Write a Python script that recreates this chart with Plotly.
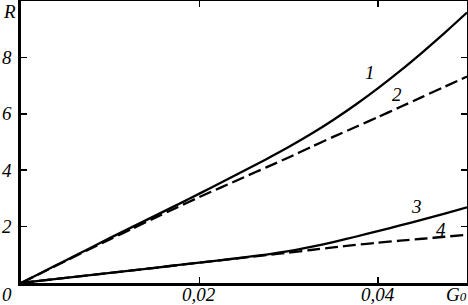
import plotly.graph_objects as go

# Data
G0 = [0.0, 0.0025, 0.005, 0.0075, 0.010, 0.0125, 0.015, 0.0175, 0.020, 0.0225, 0.025,
      0.0275, 0.030, 0.0325, 0.035, 0.0375, 0.040, 0.0425, 0.045, 0.0475, 0.050]
R1 = [0, 0.40, 0.80, 1.20, 1.60, 1.99, 2.38, 2.77, 3.17, 3.57, 3.98,
      4.39, 4.82, 5.28, 5.78, 6.32, 6.90, 7.52, 8.18, 8.87, 9.59]
R2 = [0, 0.39, 0.78, 1.17, 1.55, 1.93, 2.31, 2.68, 3.05, 3.40, 3.75,
      4.10, 4.45, 4.82, 5.18, 5.53, 5.88, 6.24, 6.60, 6.96, 7.32]
R3 = [0, 0.09, 0.18, 0.27, 0.36, 0.45, 0.54, 0.63, 0.72, 0.81, 0.91,
      1.01, 1.13, 1.28, 1.45, 1.64, 1.84, 2.04, 2.25, 2.46, 2.68]
R4 = [0, 0.09, 0.18, 0.27, 0.36, 0.45, 0.54, 0.63, 0.72, 0.81, 0.90,
      0.99, 1.08, 1.17, 1.26, 1.35, 1.43, 1.50, 1.57, 1.64, 1.71]

curve_labels = ["1", "2", "3", "4"]
label_x = [0.0391, 0.0422, 0.0443, 0.0471]
label_y = [7.45, 6.70, 2.70, 1.90]

x_ticks = [0.02, 0.04]
x_ticktext = ["0,02", "0,04"]
y_ticks = [2, 4, 6, 8]
y_ticktext = ["2", "4", "6", "8"]

FONT = dict(family="Liberation Serif", size=19, color="black", style="italic")

fig = go.Figure()
for ys, dash in [(R1, "solid"), (R2, "13px,5px"), (R3, "solid"), (R4, "13px,5px")]:
    fig.add_trace(go.Scatter(x=G0, y=ys, mode="lines",
                             line=dict(color="black", width=2.3, dash=dash, shape="spline", smoothing=0.6),
                             showlegend=False, hoverinfo="skip", cliponaxis=True))

for t, xx, yy in zip(curve_labels, label_x, label_y):
    fig.add_annotation(x=xx, y=yy, text=t, showarrow=False, font=FONT, xref="x", yref="y")

# tick labels
for v, t in zip(y_ticks, y_ticktext):
    fig.add_annotation(x=0, y=v, xref="paper", yref="y", text=t, showarrow=False,
                       font=FONT, xanchor="right", xshift=-7)
for v, t in zip(x_ticks, x_ticktext):
    fig.add_annotation(x=v, y=0, xref="x", yref="paper", text=t, showarrow=False,
                       font=FONT, yanchor="top", yshift=1)

fig.add_annotation(x=0, y=0, xref="paper", yref="paper", text="0", showarrow=False,
                   font=FONT, xanchor="right", yanchor="top", xshift=-7, yshift=1)
fig.add_annotation(x=0, y=1, xref="paper", yref="paper", text="R", showarrow=False,
                   font=FONT, xanchor="right", yanchor="top", xshift=-3, yshift=2)
fig.add_annotation(x=1, y=0, xref="paper", yref="paper",
                   text="G<span style='font-size:13px'>0</span>", showarrow=False,
                   font=FONT, xanchor="right", yanchor="top", xshift=2, yshift=1)

axis_common = dict(showline=True, linecolor="black", linewidth=3, mirror="ticks",
                   ticks="inside", ticklen=6, tickwidth=1.5, tickcolor="black",
                   showgrid=False, zeroline=False, showticklabels=False, automargin=False)

fig.update_xaxes(range=[0, 0.05], tickvals=x_ticks, **axis_common)
fig.update_yaxes(range=[0, 10], tickvals=y_ticks, **axis_common)

fig.update_layout(width=468, height=305, margin=dict(l=21, r=1, t=1, b=22),
                  plot_bgcolor="white", paper_bgcolor="white")

fig.write_html("out.html", config={"displayModeBar": False, "staticPlot": True},
               post_script="document.body.style.margin='0';")
